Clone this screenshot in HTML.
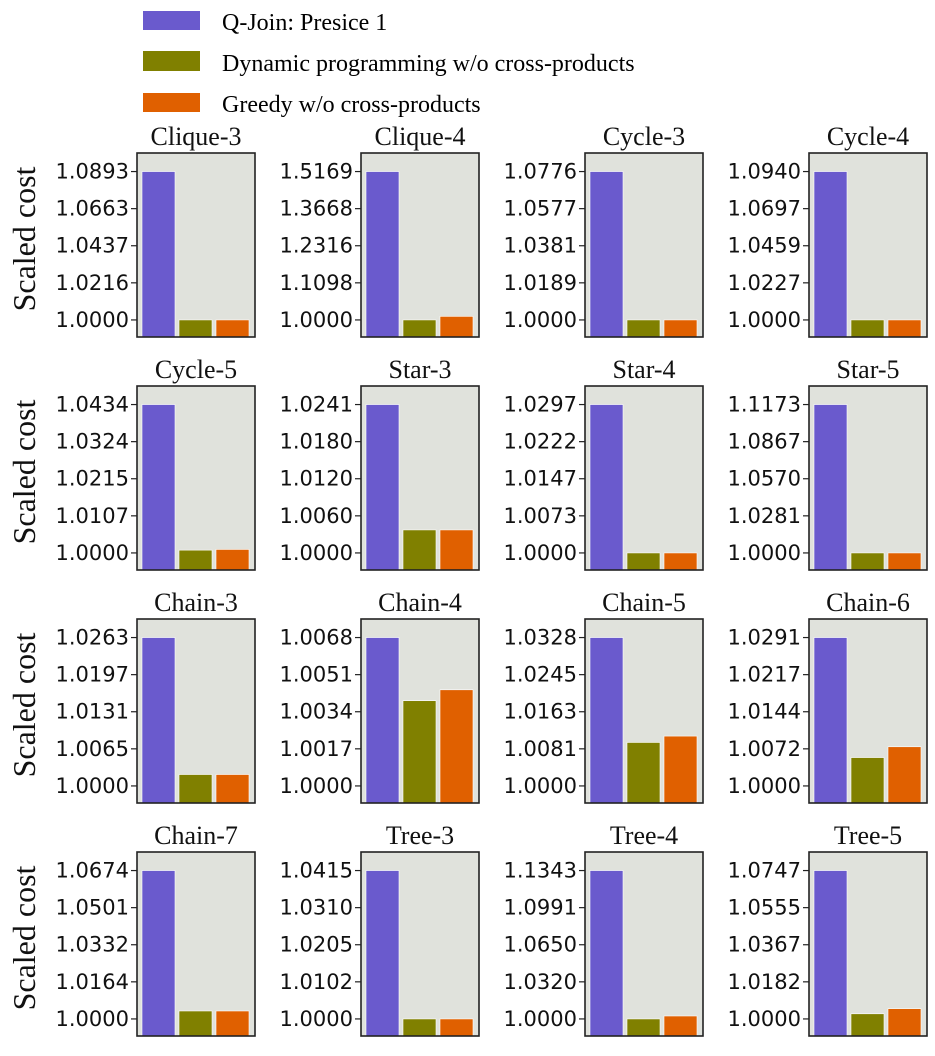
<!DOCTYPE html>
<html><head><meta charset="utf-8"><style>
body{margin:0;background:#fff;width:935px;height:1051px;overflow:hidden}
svg text{font-family:"DejaVu Sans",sans-serif}
.serif{font-family:"Liberation Serif",serif}
</style></head><body>
<svg id="chart" width="935" height="1051" xmlns="http://www.w3.org/2000/svg">
<g>
<g><rect x="143" y="11" width="57" height="19" fill="#6a5acd"/><text class="serif" x="222" y="30" font-size="24">Q-Join: Presice 1</text></g>
<g><rect x="143" y="51" width="57" height="20" fill="#808000"/><text class="serif" x="222" y="71" font-size="24">Dynamic programming w/o cross-products</text></g>
<g><rect x="143" y="93" width="57" height="19" fill="#e06000"/><text class="serif" x="222" y="112" font-size="24">Greedy w/o cross-products</text></g>
</g>
</svg>
<script>
const titles=["Clique-3","Clique-4","Cycle-3","Cycle-4","Cycle-5","Star-3","Star-4","Star-5","Chain-3","Chain-4","Chain-5","Chain-6","Chain-7","Tree-3","Tree-4","Tree-5"];
const qjoin=[1.0893,1.5169,1.0776,1.0940,1.0434,1.0241,1.0297,1.1173,1.0263,1.0068,1.0328,1.0291,1.0674,1.0415,1.1343,1.0747];
const dp=[1.0000,1.0000,1.0000,1.0000,1.0008,1.0037,1.0000,1.0000,1.0020,1.0039,1.0095,1.0055,1.0035,1.0000,1.0000,1.0025];
const greedy=[1.0000,1.0100,1.0000,1.0000,1.0010,1.0037,1.0000,1.0000,1.0020,1.0044,1.0109,1.0076,1.0035,1.0000,1.0025,1.0050];
const colors=["#6a5acd","#808000","#e06000"];
const NS="http://www.w3.org/2000/svg";
const svg=document.getElementById("chart");
function mk(tag,attrs,parent){const e=document.createElementNS(NS,tag);for(const k in attrs)e.setAttribute(k,attrs[k]);parent.appendChild(e);return e;}
titles.forEach((t,i)=>{
  const col=i%4,row=Math.floor(i/4);
  const fx=137+col*224,fy=153+row*233,fw=118,fh=184;
  const g=mk("g",{},svg);
  
  
  const vals=[qjoin[i],dp[i],greedy[i]];
  const lmax=Math.log(qjoin[i]);
  const step=lmax/4;
  const top=lmax+0.5*step,bot=-0.46*step;
  const y=v=>fy+(top-Math.log(v))/(top-bot)*fh;
  const bg=mk("rect",{x:fx,y:fy,width:fw,height:fh,fill:"#e0e2dc"},g);
  
  
  const xs=k=>fx+5+k*37;
  vals.forEach((v,k)=>{
    const yy=Math.max(fy,y(v));
    const b=mk("rect",{x:xs(k),y:yy,width:33,height:fy+fh-yy,fill:colors[k],stroke:"#fff","stroke-width":0.6},g);
    
    
  });
  mk("rect",{x:fx,y:fy,width:fw,height:fh,fill:"none",stroke:"#222","stroke-width":1.6},g);
  for(let j=0;j<5;j++){
    const tv=Math.exp(j*step);const ty=y(tv);
    mk("line",{x1:fx-6,x2:fx,y1:ty,y2:ty,stroke:"#222","stroke-width":1.2},g);
    const tx=mk("text",{x:fx-8,y:ty+7,"font-size":21,"text-anchor":"end",fill:"#111"},g);
    tx.textContent=tv.toFixed(4);
    
    
  }
  const tt=mk("text",{x:fx+fw/2,y:fy-8,"font-size":26,"text-anchor":"middle",class:"serif",fill:"#111"},g);
  tt.textContent=t;
  
  
  if(col===0){
    const yl=mk("text",{x:0,y:0,"font-size":32,"text-anchor":"middle",class:"serif",fill:"#111",transform:`translate(35,${fy+fh/2-6}) rotate(-90)`},g);
    yl.textContent="Scaled cost";
    
    
  }
});
</script>
</body></html>
